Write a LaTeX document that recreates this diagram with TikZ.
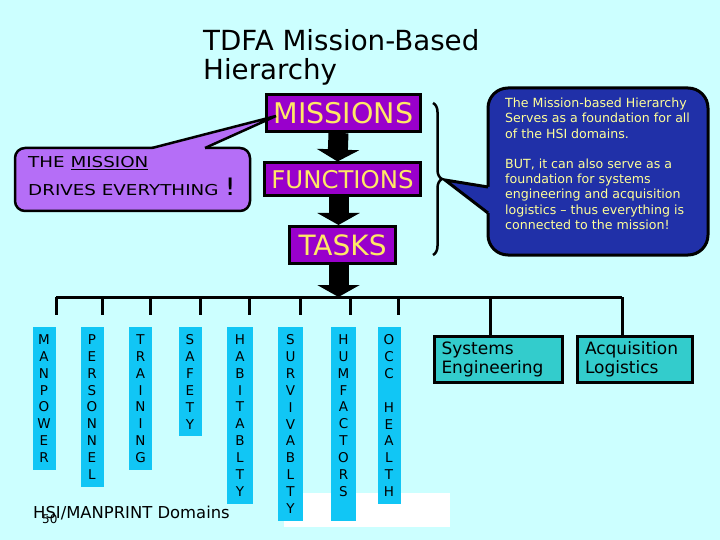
\documentclass[tikz,border=0pt]{standalone}
\usepackage{fontspec}
\setmainfont{DejaVu Sans}
\newfontfamily\comicfont{DejaVu Sans}[FakeStretch=1.22]
\usetikzlibrary{arrows.meta,decorations.pathreplacing}
\definecolor{bgcyan}{HTML}{CCFFFF}
\definecolor{boxpurple}{HTML}{9900CC}
\definecolor{boxyellow}{HTML}{FFE866}
\definecolor{domcyan}{HTML}{11C6F5}
\definecolor{boxteal}{HTML}{33CCCC}
\definecolor{lavender}{HTML}{B56EF7}
\definecolor{bubbleblue}{HTML}{2030A8}
\definecolor{paleyellow}{HTML}{FFFF99}

\begin{document}
\begin{tikzpicture}[x=1pt, y=-1pt,
    hierbox/.style={draw=black, line width=3pt, fill=boxpurple, text=boxyellow, inner sep=0pt},
    fatarrow/.style={line width=20pt, -{Triangle[width=42pt,length=12pt]}},
    bus/.style={line width=3pt, line cap=square},
    hsicol/.style={anchor=north, fill=domcyan, minimum width=23pt, inner xsep=0pt, inner ysep=7.3pt,
      align=center, font=\fontsize{13.5}{16.9}\selectfont},
    supportbox/.style={draw=black, line width=3pt, fill=boxteal, inner xsep=7.5pt, minimum height=46pt,
      align=left, font=\fontsize{17}{19}\selectfont}]
    \useasboundingbox (0,0) rectangle (720,540);
    \fill[bgcyan] (0,0) rectangle (720,540);
    % --- title ---
    \node[anchor=north west, inner sep=0pt, align=left, font=\fontsize{27.7}{29}\selectfont] (title)
      at (203,29) {TDFA Mission-Based\\Hierarchy};
    % --- hierarchy levels ---
    \node[hierbox, minimum width=154pt, minimum height=37pt, font=\fontsize{28.5}{29}\selectfont] (missions) at (343.5,113) {MISSIONS};
    \node[hierbox, minimum width=156pt, minimum height=33pt, font=\fontsize{24.4}{24}\selectfont] (functions) at (342.5,179.5) {FUNCTIONS};
    \node[hierbox, minimum width=106pt, minimum height=37pt, font=\fontsize{28}{28}\selectfont] (tasks) at (342.5,245) {TASKS};
    \coordinate (busL) at (56,297);
    \coordinate (busR) at (622,297);
    \draw[fatarrow] ([xshift=-5pt]missions.south) -- ([xshift=-5pt]functions.north);
    \draw[fatarrow] ([xshift=-4pt]functions.south) -- ([xshift=-4pt]tasks.north);
    \draw[fatarrow] ([xshift=-4pt]tasks.south) -- ([xshift=-4pt]tasks.south |- busL);
    % --- white strip behind the columns ---
    \fill[white] (284,493) rectangle (450,527);
    % --- HSI domains ---
    \node[hsicol] (manpower) at (44,327) {M\\A\\N\\P\\O\\W\\E\\R};
    \node[hsicol] (personnel) at (92,327) {P\\E\\R\\S\\O\\N\\N\\E\\L};
    \node[hsicol] (training) at (140.5,327) {T\\R\\A\\I\\N\\I\\N\\G};
    \node[hsicol] (safety) at (190,327) {S\\A\\F\\E\\T\\Y};
    \node[hsicol, minimum width=26pt] (habitablty) at (240,327) {H\\A\\B\\I\\T\\A\\B\\L\\T\\Y};
    \node[hsicol, minimum width=25pt] (survivablty) at (290.5,327) {S\\U\\R\\V\\I\\V\\A\\B\\L\\T\\Y};
    \node[hsicol, minimum width=25pt] (humfactors) at (343.5,327) {H\\U\\M\\F\\A\\C\\T\\O\\R\\S\\\mbox{}};
    \node[hsicol] (occhealth) at (389,327) {O\\C\\C\\\mbox{}\\H\\E\\A\\L\\T\\H};
    % --- support boxes ---
    \node[supportbox, minimum width=128pt, text width=113pt] (syseng) at (498,359) {Systems\\Engineering};
    \node[supportbox, minimum width=115pt, text width=100pt] (acqlog) at (635,359) {Acquisition\\Logistics};
    % --- bus ---
    \draw[bus] (busL) -- (busR);
    \foreach \d/\s in {manpower/12, personnel/10, training/9.5, safety/10, habitablty/9,
        survivablty/9.5, humfactors/6.5, occhealth/9} {
      \draw[bus] ([xshift=\s pt]\d.north |- busL) -- ([xshift=\s pt, yshift=12pt]\d.north);
    }
    \draw[bus] ([xshift=-8pt]syseng.north |- busL) -- ([xshift=-8pt]syseng.north);
    \draw[bus] ([xshift=-13pt]acqlog.north |- busL) -- ([xshift=-13pt]acqlog.north);
    \node[anchor=base west, inner sep=0pt, font=\fontsize{16.4}{17}\selectfont] (domains) at (33,518) {HSI/MANPRINT Domains};
    \node[anchor=base west, inner sep=0pt, font=\fontsize{12}{12}\selectfont] (slideno) at (42,523) {50};
    % --- bubble: the mission drives everything ---
    \coordinate (drivestip) at (276,116);
    \filldraw[fill=lavender, draw=black, line width=2.5pt, rounded corners=10pt] (15,148) rectangle (250,211);
    \fill[lavender] (152,151) -- (152,148) -- (drivestip) -- (205,148) -- (205,151) -- cycle;
    \draw[line width=2.5pt] (152,148) -- (drivestip) -- (205,148);
    \node[anchor=north west, inner sep=0pt, align=left, font=\comicfont\fontsize{15}{28}\selectfont] (drives)
      at (28,156) {THE \underline{MISSION}\\DRIVES EVERYTHING {\fontsize{24}{24}\selectfont !}};
    % --- brace and blue bubble ---
    \draw[decorate, decoration={brace, amplitude=9pt}, line width=2.5pt] (433,103) -- (433,255);
    \coordinate (bracetip) at (445,180);
    \filldraw[fill=bubbleblue, draw=black, line width=3pt, rounded corners=20pt] (488,88) rectangle (708,255);
    \fill[bubbleblue] (491,187) -- (488,187) -- (bracetip) -- (488,213) -- (491,213) -- cycle;
    \draw[line width=3pt] (488,187) -- (bracetip) -- (488,213);
    \node[anchor=north west, inner sep=0pt, align=left, text=paleyellow, font=\fontsize{12.6}{15.2}\selectfont] (hsinote)
      at (505,98) {The Mission-based Hierarchy\\Serves as a foundation for all\\of the HSI domains.\\[15.2pt]
      BUT, it can also serve as a\\foundation for systems\\engineering and acquisition\\logistics -- thus everything is\\connected to the mission!};
  \end{tikzpicture}
\end{document}
